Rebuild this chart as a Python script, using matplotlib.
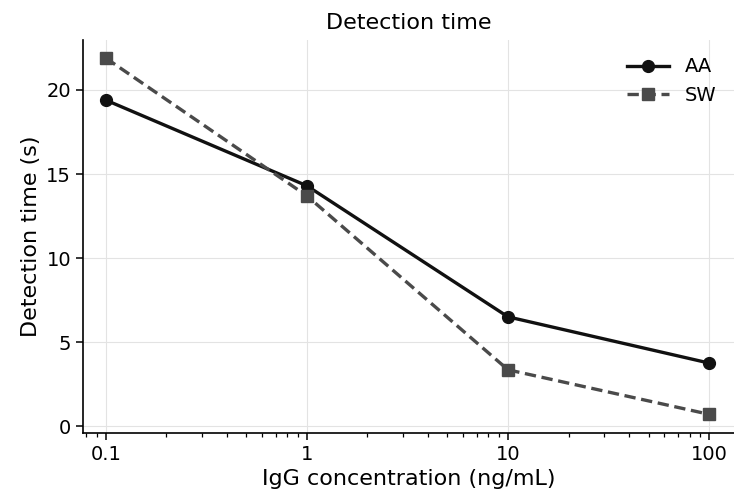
import numpy as np
import matplotlib
matplotlib.use("Agg")
import matplotlib.pyplot as plt

# data
conc = [0.1, 1, 10, 100]
aa_time = [19.4, 14.3, 6.5, 3.75]
sw_time = [21.9, 13.7, 3.35, 0.7]
x_ticks = [0.1, 1, 10, 100]
x_labels = ["0.1", "1", "10", "100"]

fig = plt.figure(figsize=(7.34, 4.99), dpi=100)
ax = fig.add_axes([0.113, 0.132, 0.887, 0.788])

ax.plot(conc, aa_time, color="#111111", lw=2.4, marker="o", ms=8.5, label="AA")
ax.plot(conc, sw_time, color="#4a4a4a", lw=2.4, ls=(0, (3.4, 1.7)), marker="s", ms=8, label="SW")

ax.set_xscale("log")
ax.set_xlim(0.077, 133)
ax.set_ylim(-0.42, 22.98)
ax.set_xticks(x_ticks)
ax.set_xticklabels(x_labels)
ax.set_yticks([0, 5, 10, 15, 20])

ax.grid(True, which="major", color="#e3e3e3", lw=0.8)
ax.set_axisbelow(True)
for s in ["top", "right"]:
    ax.spines[s].set_visible(False)
for s in ["left", "bottom"]:
    ax.spines[s].set_linewidth(1.2)

ax.tick_params(axis="both", which="major", labelsize=14, length=5, width=1.1)
ax.tick_params(axis="x", which="minor", length=3, width=0.9)

ax.set_xlabel("IgG concentration (ng/mL)", fontsize=16)
ax.set_ylabel("Detection time (s)", fontsize=16)
ax.set_title("Detection time", fontsize=16, pad=8)

ax.legend(loc="upper right", frameon=False, fontsize=14, handlelength=2.2)

fig.savefig("out.png", dpi=100)
